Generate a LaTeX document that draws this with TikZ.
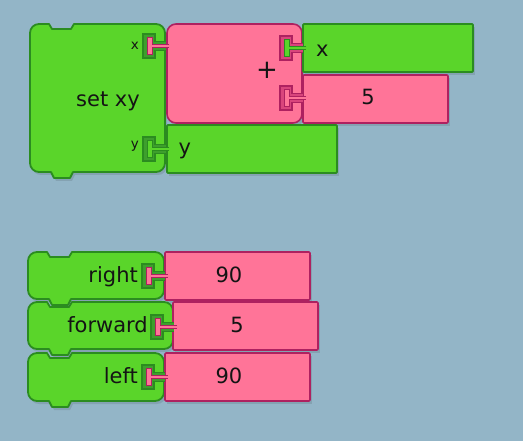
\documentclass[tikz,border=0pt]{standalone}
\usepackage{fontspec}
\setmainfont{DejaVu Sans}
\definecolor{bgc}{HTML}{93B5C7}
\definecolor{gfill}{HTML}{5AD52A}
\definecolor{gdark}{HTML}{2B8C20}
\definecolor{ghole}{HTML}{3E9F2D}
\definecolor{pfill}{HTML}{FF7498}
\definecolor{pdark}{HTML}{AE2160}
\definecolor{phole}{HTML}{D9457C}
\definecolor{txtc}{HTML}{141414}
% command block outline: left, top, right, bottom
\newcommand\cmdpath[4]{(#1,#2+9) arc[start angle=180,end angle=270,radius=9] -- (#1+19,#2) -- (#1+22,#2+5) -- (#1+41,#2+5) -- (#1+44,#2) -- (#3-9,#2) arc[start angle=270,end angle=360,radius=9] -- (#3,#4-9) arc[start angle=0,end angle=90,radius=9] -- (#1+43,#4) -- (#1+40,#4+6) -- (#1+24,#4+6) -- (#1+21,#4) -- (#1+9,#4) arc[start angle=90,end angle=180,radius=9] -- cycle}
% socket hole: right edge, centre, fill, border
\newcommand\sockhole[4]{\filldraw[fill=#3,draw=#4,line width=1.4pt] (#1+0.8,#2-4.5) -- (#1-10,#2-4.5) -- (#1-10,#2-12) -- (#1-22,#2-12) -- (#1-22,#2+12) -- (#1-10,#2+12) -- (#1-10,#2+4.5) -- (#1+0.8,#2+4.5);}
% plug: right edge, centre, fill, border
\newcommand\sockplug[4]{\filldraw[fill=#3,draw=#4,line width=1pt] (#1+4,#2-1.7) -- (#1-13,#2-1.7) -- (#1-13,#2-8.5) -- (#1-18,#2-8.5) -- (#1-18,#2+8.5) -- (#1-13,#2+8.5) -- (#1-13,#2+1.7) -- (#1+4,#2+1.7);}
\begin{document}
\begin{tikzpicture}[x=1pt,y=-1pt,
  gblk/.style={fill=gfill,draw=gdark,line width=1.8pt,line join=round},
  pblk/.style={fill=pfill,draw=pdark,line width=1.6pt,line join=round},
  shad/.style={fill=black,opacity=0.1,shift={(2,3)}},
  lbl/.style={font=\fontsize{21}{24}\selectfont,text=txtc,inner sep=0pt},
  lblsmall/.style={font=\fontsize{13.5}{16}\selectfont,text=txtc,inner sep=0pt}]
\useasboundingbox (0,0) rectangle (523,441);
\fill[bgc] (0,0) rectangle (523,441);
% ---------- shadows ----------
\fill[shad] \cmdpath{30}{24}{165}{172};
\fill[shad,rounded corners=9pt] (167,24) rectangle (302,123);
\fill[shad] (303,24) rectangle (473,72);
\fill[shad] (303,75) rectangle (448,123);
\fill[shad] (167,125) rectangle (337,173);
\fill[shad] \cmdpath{28}{252}{164}{299};
\fill[shad] \cmdpath{28}{302}{173}{349};
\fill[shad] \cmdpath{28}{353}{164}{401};
\fill[shad] (165,252) rectangle (310,300);
\fill[shad] (173,302) rectangle (318,350);
\fill[shad] (165,353) rectangle (310,401);
% ---------- top group ----------
\filldraw[gblk] \cmdpath{30}{24}{165}{172};
\filldraw[pblk,rounded corners=9pt] (167,24) rectangle (302,123);
\filldraw[gblk,rounded corners=1pt] (303,24) rectangle (473,72);
\filldraw[pblk,rounded corners=1pt] (303,75) rectangle (448,123);
\filldraw[gblk,rounded corners=1pt] (167,125) rectangle (337,173);
% ---------- bottom group ----------
\filldraw[gblk] \cmdpath{28}{252}{164}{299};
\filldraw[gblk] \cmdpath{28}{302}{173}{349};
\filldraw[gblk] \cmdpath{28}{353}{164}{401};
\filldraw[pblk,rounded corners=1pt] (165,252) rectangle (310,300);
\filldraw[pblk,rounded corners=1pt] (173,302) rectangle (318,350);
\filldraw[pblk,rounded corners=1pt] (165,353) rectangle (310,401);
% ---------- sockets ----------
\sockhole{165}{46}{ghole}{gdark}
\sockhole{165}{149}{ghole}{gdark}
\sockhole{302}{48}{phole}{pdark}
\sockhole{302}{98}{phole}{pdark}
\sockhole{164}{276}{ghole}{gdark}
\sockhole{173}{327}{ghole}{gdark}
\sockhole{164}{377}{ghole}{gdark}
\sockplug{165}{46}{pfill}{pdark}
\sockplug{165}{149}{gfill}{gdark}
\sockplug{302}{48}{gfill}{gdark}
\sockplug{302}{98}{pfill}{pdark}
\sockplug{164}{276}{pfill}{pdark}
\sockplug{173}{327}{pfill}{pdark}
\sockplug{164}{377}{pfill}{pdark}
% ---------- texts ----------
\node[lbl,anchor=base] (tsetxy) at (108,107) {set xy};
\node[lblsmall,anchor=base east] (tsx) at (139,50) {x};
\node[lblsmall,anchor=base east] (tsy) at (139,149) {y};
\node[lbl,font=\fontsize{26}{28}\selectfont,anchor=center] (tplus) at (267,70) {+};
\node[lbl,anchor=base west] (tx) at (316,57) {x};
\node[lbl,anchor=base] (tfive) at (368,105) {5};
\node[lbl,anchor=base west] (ty) at (178.5,155) {y};
\node[lbl,anchor=base east] (tright) at (138,283) {right};
\node[lbl,anchor=base east] (tforward) at (148,333) {forward};
\node[lbl,anchor=base east] (tleft) at (138,383) {left};
\node[lbl,anchor=base] (tn1) at (229,283) {90};
\node[lbl,anchor=base] (tn2) at (237,333) {5};
\node[lbl,anchor=base] (tn3) at (229,383) {90};
\end{tikzpicture}
\end{document}
